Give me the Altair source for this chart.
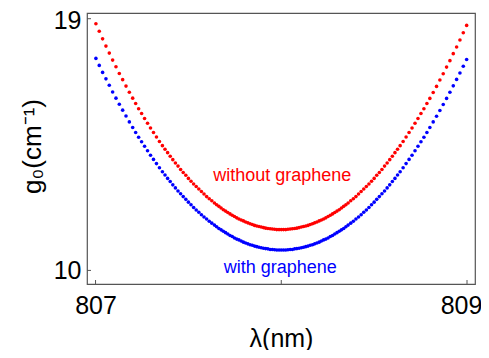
import altair as alt
import pandas as pd

# wavelength (nm) of each plotted point
wavelength = [
    807.002, 807.020, 807.038, 807.056, 807.074, 807.092, 807.110, 807.128, 807.146, 807.164, 807.182,
    807.200, 807.216, 807.232, 807.248, 807.264, 807.280, 807.296, 807.312, 807.328, 807.344,
    807.360, 807.374, 807.388, 807.402, 807.416, 807.430, 807.444, 807.458, 807.472, 807.486,
    807.500, 807.514, 807.528, 807.542, 807.556, 807.570, 807.584, 807.598, 807.612, 807.626,
    807.640, 807.652, 807.664, 807.676, 807.688, 807.700, 807.712, 807.724, 807.736, 807.748,
    807.760, 807.772, 807.784, 807.796, 807.808, 807.820, 807.832, 807.844, 807.856, 807.868,
    807.880, 807.892, 807.904, 807.916, 807.928, 807.940, 807.952, 807.964, 807.976, 807.988,
    808.000,
    808.012, 808.024, 808.036, 808.048, 808.060, 808.072, 808.084, 808.096, 808.108, 808.120,
    808.132, 808.144, 808.156, 808.168, 808.180, 808.192, 808.204, 808.216, 808.228, 808.240,
    808.252, 808.264, 808.276, 808.288, 808.300, 808.312, 808.324, 808.336, 808.348, 808.360,
    808.374, 808.388, 808.402, 808.416, 808.430, 808.444, 808.458, 808.472, 808.486, 808.500,
    808.514, 808.528, 808.542, 808.556, 808.570, 808.584, 808.598, 808.612, 808.626, 808.640,
    808.656, 808.672, 808.688, 808.704, 808.720, 808.736, 808.752, 808.768, 808.784, 808.800,
    808.818, 808.836, 808.854, 808.872, 808.890, 808.908, 808.926, 808.944, 808.962, 808.980, 808.998,
]

# gain without graphene (red)
g_without = [
    18.82, 18.55, 18.28, 18.02, 17.77, 17.52, 17.28, 17.04, 16.82, 16.59, 16.37,
    16.16, 15.97, 15.78, 15.61, 15.43, 15.26, 15.09, 14.93, 14.77, 14.61,
    14.46, 14.33, 14.21, 14.08, 13.96, 13.84, 13.73, 13.61, 13.50, 13.40,
    13.29, 13.19, 13.09, 13.00, 12.91, 12.82, 12.73, 12.64, 12.56, 12.49,
    12.41, 12.35, 12.29, 12.23, 12.17, 12.12, 12.07, 12.02, 11.97, 11.93,
    11.88, 11.84, 11.80, 11.77, 11.73, 11.70, 11.67, 11.64, 11.61, 11.59,
    11.57, 11.55, 11.53, 11.51, 11.50, 11.49, 11.48, 11.47, 11.46, 11.46,
    11.46,
    11.46, 11.46, 11.47, 11.48, 11.49, 11.50, 11.51, 11.53, 11.55, 11.57,
    11.59, 11.61, 11.64, 11.67, 11.70, 11.73, 11.77, 11.80, 11.84, 11.88,
    11.93, 11.97, 12.02, 12.07, 12.12, 12.17, 12.23, 12.29, 12.35, 12.41,
    12.49, 12.56, 12.64, 12.73, 12.82, 12.91, 13.00, 13.09, 13.19, 13.29,
    13.40, 13.50, 13.61, 13.73, 13.84, 13.96, 14.08, 14.21, 14.33, 14.46,
    14.61, 14.77, 14.93, 15.09, 15.26, 15.43, 15.61, 15.78, 15.97, 16.15,
    16.36, 16.58, 16.81, 17.03, 17.27, 17.50, 17.75, 17.99, 18.24, 18.50, 18.76,
]

# gain with graphene (blue)
g_with = [
    17.58, 17.33, 17.08, 16.85, 16.62, 16.38, 16.16, 15.94, 15.73, 15.52, 15.31,
    15.11, 14.93, 14.76, 14.60, 14.44, 14.28, 14.12, 13.97, 13.82, 13.67,
    13.53, 13.41, 13.29, 13.18, 13.06, 12.95, 12.84, 12.74, 12.64, 12.54,
    12.44, 12.35, 12.25, 12.16, 12.08, 11.99, 11.91, 11.84, 11.76, 11.69,
    11.62, 11.56, 11.50, 11.45, 11.40, 11.35, 11.30, 11.25, 11.21, 11.16,
    11.12, 11.09, 11.05, 11.01, 10.98, 10.95, 10.92, 10.90, 10.87, 10.85,
    10.83, 10.81, 10.79, 10.78, 10.77, 10.75, 10.75, 10.74, 10.73, 10.73,
    10.73,
    10.73, 10.73, 10.74, 10.75, 10.75, 10.77, 10.78, 10.79, 10.81, 10.83,
    10.85, 10.87, 10.90, 10.92, 10.95, 10.98, 11.01, 11.05, 11.09, 11.12,
    11.16, 11.21, 11.25, 11.30, 11.35, 11.40, 11.45, 11.50, 11.56, 11.62,
    11.69, 11.76, 11.84, 11.91, 11.99, 12.08, 12.16, 12.25, 12.35, 12.44,
    12.54, 12.64, 12.74, 12.84, 12.95, 13.06, 13.18, 13.29, 13.41, 13.53,
    13.67, 13.82, 13.97, 14.12, 14.28, 14.44, 14.60, 14.76, 14.93, 15.11,
    15.31, 15.51, 15.72, 15.93, 16.15, 16.37, 16.60, 16.83, 17.06, 17.30, 17.54,
]

x_ticks = [807, 808, 809]
y_ticks = [10, 19]

label_text = ["without graphene", "with graphene"]
label_x = [808.005, 807.995]
label_y = [13.39, 10.10]
label_color = ["#ff0000", "#0000ff"]

assert len(wavelength) == len(g_without) == len(g_with)

FONT = "Liberation Sans"
W, H = 388, 271

xscale = alt.Scale(domain=[806.954, 809.043], nice=False, zero=False)
yscale = alt.Scale(domain=[9.514, 19.204], nice=False, zero=False)

df_red = pd.DataFrame({"x": wavelength, "y": g_without})
df_blue = pd.DataFrame({"x": wavelength, "y": g_with})
df_xt = pd.DataFrame({"x": x_ticks})
df_yt = pd.DataFrame({"y": y_ticks})
df_lab = pd.DataFrame({"x": label_x, "y": label_y, "t": label_text, "c": label_color})

xaxis = alt.Axis(values=x_ticks, format="d", ticks=False, domain=False, grid=False,
                 labelFontSize=25, labelFont=FONT, labelColor="black", labelPadding=9,
                 labelOverlap=False, labelBound=False, labelFlush=False,
                 labelOffset={"expr": "datum.value == 809 ? -6 : 0"},
                 title="λ(nm)", titleFont=FONT, titleFontSize=25, titleFontWeight="normal",
                 titleColor="black", titleAnchor="middle", titleBaseline="middle",
                 titleX=W / 2, titleY=54, titlePadding=0)
yaxis = alt.Axis(values=y_ticks, format="d", ticks=False, domain=False, grid=False,
                 labelFontSize=25, labelFont=FONT, labelColor="black", labelPadding=6,
                 labelOverlap=False, labelBound=False, labelFlush=False,
                 labelOffset={"expr": "datum.value == 19 ? 2 : 0"},
                 title="g₀(cm⁻¹)", titleFont=FONT, titleFontSize=26, titleFontWeight="normal",
                 titleColor="black", titleAngle=-90, titleAlign="center", titleBaseline="middle",
                 titleX=-55, titleY=133, titlePadding=0)

X = alt.X("x:Q", scale=xscale, axis=xaxis)
Y = alt.Y("y:Q", scale=yscale, axis=yaxis)

red = alt.Chart(df_red).mark_circle(size=13, opacity=1, color="#ff0000").encode(x=X, y=Y)
blue = alt.Chart(df_blue).mark_circle(size=13, opacity=1, color="#0000ff").encode(x=X, y=Y)
xt = alt.Chart(df_xt).mark_rule(color="#555555", strokeWidth=1).encode(
    x=X, y=alt.value(H), y2=alt.value(H - 4),
)
yt = alt.Chart(df_yt).mark_rule(color="#555555", strokeWidth=1).encode(
    y=Y, x=alt.value(0), x2=alt.value(4),
)
labels = alt.Chart(df_lab).mark_text(font=FONT, fontSize=18, align="center", baseline="middle").encode(
    x=X, y=Y,
    text="t:N",
    color=alt.Color("c:N", scale=None),
)

chart = alt.layer(red, blue, xt, yt, labels).properties(
    width=W, height=H,
    autosize=alt.AutoSizeParams(type="none"),
    padding={"left": 79, "top": 5, "right": 6, "bottom": 66},
    background="white",
).configure_view(stroke="#555555", strokeWidth=1.2)

chart.save("out.html", embed_options={"renderer": "svg", "actions": False})
